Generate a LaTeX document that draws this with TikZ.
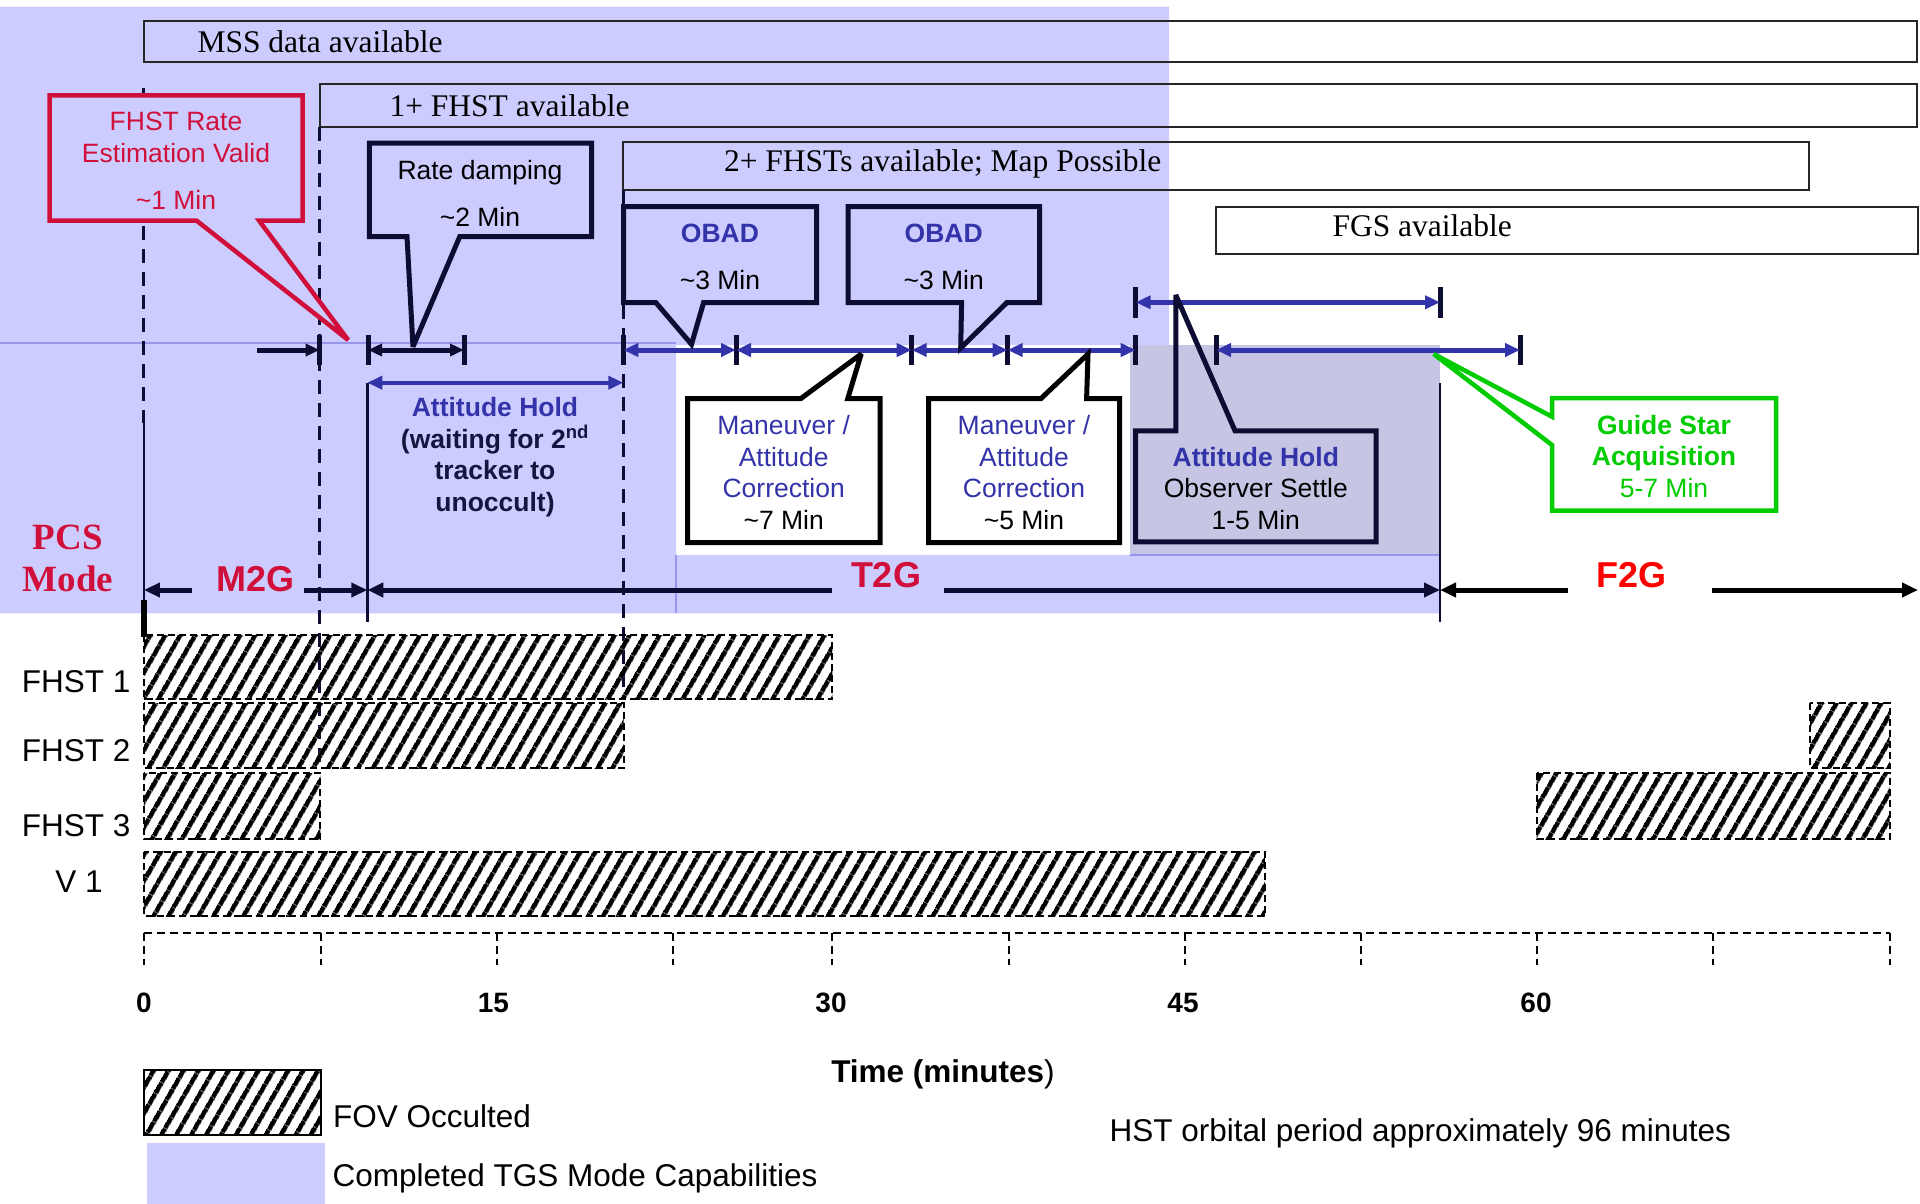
\documentclass[tikz,border=0pt]{standalone}
\usepackage{fontspec}
\setmainfont{Liberation Serif}
\setsansfont{Liberation Sans}
\usetikzlibrary{arrows.meta,patterns.meta}
\definecolor{tgsblue}{RGB}{204,204,255}
\definecolor{settle}{RGB}{198,198,228}
\definecolor{edgeblue}{RGB}{150,150,235}
\definecolor{navy}{RGB}{13,13,51}
\definecolor{holdnavy}{RGB}{21,21,64}
\definecolor{capblue}{RGB}{51,51,170}
\definecolor{pcsred}{RGB}{208,16,58}
\definecolor{gsgreen}{RGB}{0,204,0}

\begin{document}
\begin{tikzpicture}[x=1pt,y=-1pt,
		avail/.style={draw=black!85,line width=2pt},
		availtxt/.style={anchor=base west,font=\fontsize{31.5}{38}\selectfont},
		vdash/.style={draw=navy,line width=2.5pt,dash pattern=on 14pt off 9pt},
		axisdash/.style={draw=black,line width=2pt,dash pattern=on 8pt off 5pt},
		occ/.style={pattern={Lines[angle=60,distance=13pt,line width=5pt]},pattern color=black,draw=black,line width=2pt,dash pattern=on 7pt off 4pt},
		callout/.style={line width=5pt,line join=miter,miter limit=3},
		boxtxt/.style={align=center,font=\sffamily\fontsize{26.5}{31.7}\selectfont},
		lbl/.style={font=\sffamily\fontsize{31.5}{37}\selectfont},
		num/.style={anchor=base,font=\sffamily\bfseries\fontsize{28}{34}\selectfont},
		modetxt/.style={anchor=base,font=\sffamily\bfseries\fontsize{36}{43}\selectfont},
		span/.style={line width=5pt,capblue,{Triangle[length=15pt,width=13pt]}-{Triangle[length=15pt,width=13pt]}},
		blkspan/.style={line width=5pt,navy,{Triangle[length=14pt,width=12pt]}-{Triangle[length=14pt,width=12pt]}},
		modearrow/.style={line width=5pt,navy,-{Triangle[length=16pt,width=14pt]}}]
	\useasboundingbox (0,0) rectangle (1920,1204);
	\fill[white] (0,0) rectangle (1920,1204);
	\fill[tgsblue] (0,6.7) -- (1169,6.7) -- (1169,345) -- (676,345) -- (676,555) -- (1440,555) -- (1440,613.3) -- (0,613.3) -- cycle;
	\fill[settle] (1130,345) rectangle (1440,555);
	\draw[edgeblue,line width=2pt] (0,343.3) -- (676,343.3);
	\draw[edgeblue,line width=1.5pt] (676,555) -- (676,613.3) (1130,555) -- (1440,555);

	\foreach \xa/\ya/\xb/\yb in {143.7/20.7/1917/62.3, 319.6/84.3/1917/126.7, 623.2/142/1808.6/190, 1216/206.7/1918/254.3}
		\draw[avail] (\xa,\ya) rectangle (\xb,\yb);
	\node[availtxt] (mss) at (194,52.7) {MSS data available};
	\node[availtxt] (onefhst) at (386,116.7) {1+ FHST available};
	\node[availtxt] (twofhst) at (720.5,171.7) {2+ FHSTs available; Map Possible};
	\node[availtxt] (fgs) at (1329,236.7) {FGS available};

	\draw[vdash] (143.7,88) -- (143.7,423);
	\draw[vdash] (319.6,126.7) -- (319.6,770);
	\draw[vdash] (623.5,190) -- (623.5,700);
	\draw[navy,line width=2.5pt] (143.9,423) -- (143.9,600) (367.3,383) -- (367.3,621.7) (1440,383) -- (1440,621.7);
	\draw[black,line width=6pt] (143.9,600) -- (143.9,637);

	\foreach \xa/\ya/\xb/\yb in {143.9/635/832.3/699.3, 143.9/703.3/623.5/768.3, 1810/703.3/1889.6/768.3, 143.9/773.3/320.4/839.3, 1536.7/773.3/1889.6/839.3, 143.9/851.7/1264.8/916}
		\draw[occ] (\xa,\ya) rectangle (\xb,\yb);
	\node[lbl,anchor=base east] (fhst1) at (134,692.8) {FHST 1};
	\node[lbl,anchor=base east] (fhst2) at (134,761.1) {FHST 2};
	\node[lbl,anchor=base east] (fhst3) at (134,836.1) {FHST 3};
	\node[lbl,anchor=base] (v1) at (79,892.8) {V 1};

	\draw[axisdash] (143.9,932.7) -- (1889.6,932.7);
	\foreach \x in {143.9,320.5,497,673,832,1008.5,1184.5,1360.6,1536.7,1712.7,1889.6}
		\draw[axisdash] (\x,932.7) -- (\x,965);
	\foreach \x/\lab in {143.9/0,493.4/15,831/30,1183/45,1536/60}
		\node[num] (n\lab) at (\x,1012) {\lab};
	\node[lbl,anchor=base] (tlab) at (943,1082) {\textbf{Time (minutes})};
	\node[lbl,anchor=base west] (orbit) at (1106,1141.6) {HST orbital period approximately 96 minutes};

	\draw[black,line width=2pt,pattern={Lines[angle=60,distance=13pt,line width=5pt]}] (143.9,1070) rectangle (320.7,1135);
	\fill[tgsblue] (147.4,1143.3) rectangle (325.3,1204);
	\node[lbl,anchor=base west] (fovlab) at (329.5,1127.8) {FOV Occulted};
	\node[lbl,anchor=base west] (tgslab) at (329,1186.1) {Completed TGS Mode Capabilities};

	\foreach \nm/\x in {rv/319.6,rdA/368,rdB/464,obA/623.3,mnA/736,obB/911.7,mnB/1007.6,ahA/1135.7,gsA/1216,gsB/1520}{
		\fill[navy] (\x-2.5,335) rectangle (\x+2.5,365);
		\coordinate (\nm) at (\x,350);}
	\foreach \nm/\x in {osA/1135.7,osB/1440}{
		\fill[navy] (\x-2.5,286.7) rectangle (\x+2.5,318.3);
		\coordinate (\nm) at (\x,302.3);}
	\coordinate (rvS) at (256.7,350);
	\draw[modearrow,-{Triangle[length=14pt,width=12pt]}] (rvS) -- (rv);
	\draw[blkspan] (rdA) -- (rdB);
	\foreach \a/\b in {obA/mnA,mnA/obB,obB/mnB,mnB/ahA,gsA/gsB,osA/osB}
		\draw[span] (\a) -- (\b);
	\coordinate (holdA) at (367.3,382.7);
	\coordinate (holdB) at (623.3,382.7);
	\draw[span,line width=4pt] (holdA) -- (holdB);

	\coordinate (m2gA) at (143.9,590);
	\coordinate (m2gL) at (191.7,590);
	\coordinate (m2gR) at (304,590);
	\coordinate (m2gB) at (367.3,590);
	\coordinate (t2gL) at (832,590);
	\coordinate (t2gR) at (943.8,590);
	\coordinate (t2gB) at (1440,590);
	\coordinate (f2gL) at (1568,590);
	\coordinate (f2gR) at (1712,590);
	\coordinate (f2gB) at (1918,590);
	\draw[modearrow] (m2gL) -- (m2gA);
	\draw[modearrow] (m2gR) -- (m2gB);
	\draw[modearrow] (t2gL) -- (m2gB);
	\draw[modearrow] (t2gR) -- (t2gB);
	\draw[modearrow,black] (f2gL) -- (t2gB);
	\draw[modearrow,black] (f2gR) -- (f2gB);
	\node[modetxt,text=pcsred] (m2g) at (255.3,591) {M2G};
	\node[modetxt,text=pcsred] (t2g) at (886,587) {T2G};
	\node[modetxt,text=red] (f2g) at (1631,587) {F2G};
	\node[align=center,font=\bfseries\fontsize{37}{41.7}\selectfont,text=pcsred] (pcs) at (67.9,558.6) {PCS\\Mode};

	\draw[callout,draw=pcsred,line width=4.5pt,fill=tgsblue] (49.5,95.3) -- (302.5,95.3) -- (302.5,220.5) -- (259,220.5) -- (348.2,340) -- (196.4,220.5) -- (49.5,220.5) -- cycle;
	\node[boxtxt,text=pcsred] (rate) at (176,161) {FHST Rate\\Estimation Valid\\[15.7pt]\textasciitilde1 Min};
	\draw[callout,draw=navy] (369.4,143.2) -- (591.5,143.2) -- (591.5,236.5) -- (459.8,236.5) -- (413,346.7) -- (407,236.5) -- (369.4,236.5) -- cycle;
	\node[boxtxt] (damp) at (480,193.4) {Rate damping\\[15pt]\textasciitilde2 Min};
	\draw[callout,draw=navy] (623.5,206.5) -- (816.5,206.5) -- (816.5,302.5) -- (703.6,302.5) -- (691.5,344.3) -- (655.8,302.5) -- (623.5,302.5) -- cycle;
	\node[boxtxt] (obad1) at (720,256.5) {\textcolor{capblue}{\bfseries OBAD}\\[15.3pt]\textasciitilde3 Min};
	\draw[callout,draw=navy] (848,206.5) -- (1039.5,206.5) -- (1039.5,302.5) -- (1007,302.5) -- (960.7,348) -- (961.6,302.5) -- (848,302.5) -- cycle;
	\node[boxtxt] (obad2) at (943.7,256.5) {\textcolor{capblue}{\bfseries OBAD}\\[15.3pt]\textasciitilde3 Min};
	\draw[callout,draw=black] (687.5,398.5) -- (800.9,398.5) -- (861.2,354) -- (847.8,398.5) -- (880,398.5) -- (880,542.5) -- (687.5,542.5) -- cycle;
	\node[boxtxt,text=capblue] (man1) at (783.7,472.5) {Maneuver /\\Attitude\\Correction\\\textcolor{black}{\textasciitilde7 Min}};
	\draw[callout,draw=black] (928.5,398.5) -- (1041,398.5) -- (1088,354) -- (1086.6,398.5) -- (1119.5,398.5) -- (1119.5,542.5) -- (928.5,542.5) -- cycle;
	\node[boxtxt,text=capblue] (man2) at (1024,472.5) {Maneuver /\\Attitude\\Correction\\\textcolor{black}{\textasciitilde5 Min}};
	\draw[callout,draw=navy] (1135.6,430.8) -- (1175.8,430.8) -- (1175.8,295) -- (1235,430.8) -- (1376,430.8) -- (1376,541.8) -- (1135.6,541.8) -- cycle;
	\node[boxtxt] (settlebox) at (1255.8,488.4) {\textcolor{capblue}{\bfseries Attitude Hold}\\Observer Settle\\1-5 Min};
	\draw[callout,draw=gsgreen,line width=4.5pt] (1552,398) -- (1776,398) -- (1776,510.7) -- (1552,510.7) -- (1552,445) -- (1433.7,354) -- (1552,416.7) -- cycle;
	\node[boxtxt,text=gsgreen] (gsacq) at (1664,456.5) {\textbf{Guide Star}\\\textbf{Acquisition}\\5-7 Min};
	\node[boxtxt,font=\sffamily\bfseries\fontsize{26.5}{31.7}\selectfont,text=holdnavy] (hold) at (495,457) {\textcolor{capblue}{Attitude Hold}\\(waiting for 2\textsuperscript{nd}\\tracker to\\unoccult)};
\end{tikzpicture}
\end{document}
